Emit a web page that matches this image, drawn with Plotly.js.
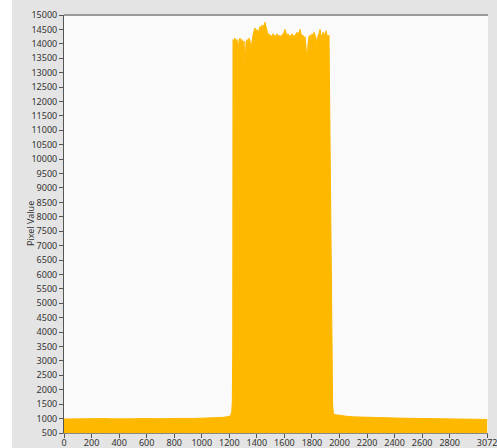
<!DOCTYPE html>
<html>
<head>
<meta charset="utf-8">
<script src="https://cdn.plot.ly/plotly-3.0.1.min.js"></script>
<style>html,body{margin:0;padding:0;background:#fff;}#chart{width:497px;height:448px;}</style>
</head>
<body>
<div id="chart"></div>
<script>
// Column index (pixel column of the sensor line) and pixel value
const baseCols = [0, 50, 100, 150, 200, 250, 300, 350, 400, 450, 500, 550, 600, 650, 700, 750, 800, 850, 900, 950, 1000, 1050, 1100, 1150, 1180, 1200, 1210, 1218, 1222, 1225];
const baseVals = [985, 990, 980, 995, 990, 985, 1000, 990, 985, 995, 990, 1000, 995, 990, 1000, 995, 1005, 1000, 1010, 1005, 1015, 1020, 1030, 1040, 1060, 1080, 1120, 1250, 1600, 3500];

const plateauStart = 1227;
const plateauStep = 7.26;
const plateauVals = [
  14150, 14100, 14200, 14050, 14150, 13800, 14100, 14200, 14050, 14150,
  13950, 14100, 13250, 14050, 14150, 14000, 14200, 14100, 13850, 14150,
  14300, 14450, 14550, 14400, 14500, 14350, 14450, 14600, 14500, 14650,
  14550, 14700, 14750, 14600, 14400, 14300, 14350, 14250, 14300, 14200,
  14350, 14250, 14300, 14200, 14350, 14250, 14300, 14150, 14300, 14250,
  14350, 14400, 14500, 14300, 14250, 14350, 14200, 14300, 14250, 14350,
  14200, 14300, 14250, 14350, 14400, 14300, 14450, 14500, 14350, 14250,
  14300, 14100, 14250, 13900, 13450, 14000, 14250, 14300, 14200, 14350,
  14250, 14400, 14300, 14200, 13900, 14300, 14350, 14500, 14300, 14250,
  14400, 14300, 14350, 14450, 14300, 14250, 14300
];

const tailCols = [1930, 1938, 1945, 1950, 1955, 1962, 1975, 2000, 2050, 2100, 2150, 2200, 2300, 2400, 2500, 2600, 2700, 2800, 2900, 3000, 3072];
const tailVals = [11000, 6000, 2500, 1500, 1200, 1140, 1130, 1110, 1080, 1060, 1050, 1040, 1030, 1020, 1010, 1000, 990, 980, 975, 970, 970];

const yTicks = [500, 1000, 1500, 2000, 2500, 3000, 3500, 4000, 4500, 5000, 5500, 6000, 6500, 7000, 7500, 8000, 8500, 9000, 9500, 10000, 10500, 11000, 11500, 12000, 12500, 13000, 13500, 14000, 14500, 15000];
const yTickText = ["500", "1000", "1500", "2000", "2500", "3000", "3500", "4000", "4500", "5000", "5500", "6000", "6500", "7000", "7500", "8000", "8500", "9000", "9500", "10000", "10500", "11000", "11500", "12000", "12500", "13000", "13500", "14000", "14500", "15000"];
const xTicks = [0, 200, 400, 600, 800, 1000, 1200, 1400, 1600, 1800, 2000, 2200, 2400, 2600, 2800, 3072];
const xTickText = ["0", "200", "400", "600", "800", "1000", "1200", "1400", "1600", "1800", "2000", "2200", "2400", "2600", "2800", "3072"];

const xs = baseCols.slice();
const ys = baseVals.slice();
plateauVals.forEach((v, i) => { xs.push(plateauStart + i * plateauStep); ys.push(v); });
tailCols.forEach((c, i) => { xs.push(c); ys.push(tailVals[i]); });

const fnt = {family: '"Noto Sans", "DejaVu Sans", sans-serif', size: 9, color: '#333'};

Plotly.newPlot('chart', [{
  type: 'scatter', mode: 'lines', x: xs, y: ys,
  fill: 'tozeroy', fillcolor: '#FFB800',
  line: {color: '#FFB800', width: 1, shape: 'linear'},
  hoverinfo: 'skip'
}], {
  width: 497, height: 448,
  margin: {l: 64, r: 9, t: 15, b: 15, pad: 0},
  paper_bgcolor: '#e4e4e4',
  plot_bgcolor: '#fafafa',
  showlegend: false,
  font: fnt,
  xaxis: {
    range: [0, 3078], tickmode: 'array', tickvals: xTicks, ticktext: xTickText,
    ticks: 'outside', ticklen: 4, tickcolor: '#555', showgrid: false, zeroline: false,
    showline: true, linecolor: '#888', linewidth: 1, tickfont: fnt, fixedrange: true,
    ticklabeloverflow: 'allow', ticklabelstandoff: -3
  },
  yaxis: {
    range: [500, 15000], tickmode: 'array', tickvals: yTicks, ticktext: yTickText,
    ticks: 'outside', ticklen: 4, tickcolor: '#555', showgrid: false, zeroline: false,
    showline: true, linecolor: '#555', linewidth: 1, tickfont: fnt, fixedrange: true
  },
  shapes: [
    {type: 'rect', xref: 'paper', yref: 'paper', x0: -0.16, x1: -0.1226, y0: -0.1, y1: 1.1, fillcolor: '#ffffff', line: {width: 0}, layer: 'below'},
    {type: 'line', xref: 'paper', yref: 'paper', x0: 0, x1: 1, y0: 1, y1: 1, line: {color: '#999', width: 2}}
  ],
  annotations: [{
    text: 'Pixel Value', xref: 'paper', yref: 'paper', x: -0.080, y: 0.5,
    textangle: -90, showarrow: false, xanchor: 'center', yanchor: 'middle',
    font: {family: fnt.family, size: 9, color: '#333'}
  }]
}, {displayModeBar: false, staticPlot: true});
</script>
</body>
</html>
